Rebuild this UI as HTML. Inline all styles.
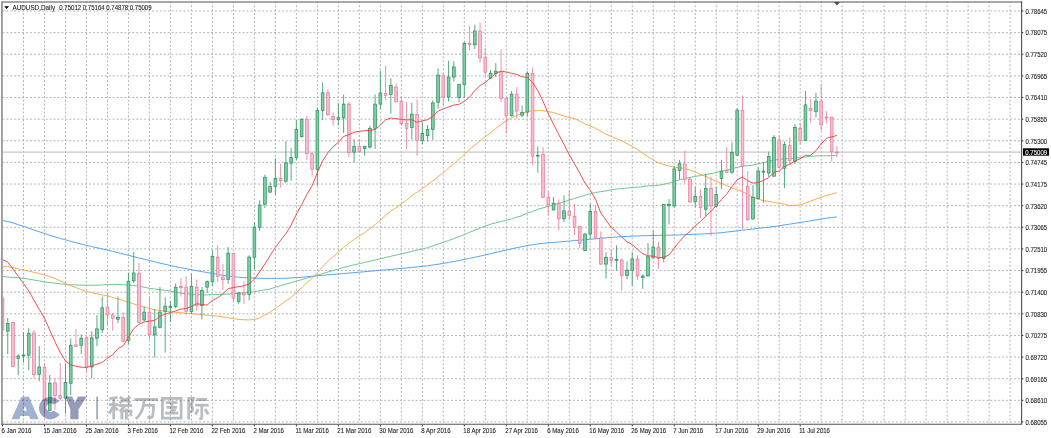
<!DOCTYPE html><html><head><meta charset="utf-8"><style>
html,body{margin:0;padding:0;background:#fff;width:1051px;height:438px;overflow:hidden}
svg{position:absolute;left:0;top:0}
text{font-family:"Liberation Sans",sans-serif}
</style></head><body>
<svg width="1051" height="438" viewBox="0 0 1051 438">
<path d="M2.4 11.00H1020.5M2.4 32.63H1020.5M2.4 54.26H1020.5M2.4 75.89H1020.5M2.4 97.52H1020.5M2.4 119.15H1020.5M2.4 140.78H1020.5M2.4 162.41H1020.5M2.4 184.04H1020.5M2.4 205.67H1020.5M2.4 227.30H1020.5M2.4 248.93H1020.5M2.4 270.56H1020.5M2.4 292.19H1020.5M2.4 313.82H1020.5M2.4 335.45H1020.5M2.4 357.08H1020.5M2.4 378.71H1020.5M2.4 400.34H1020.5M2.4 421.97H1020.5M23.49 1.3V423M44.48 1.3V423M65.48 1.3V423M86.47 1.3V423M107.46 1.3V423M128.45 1.3V423M149.44 1.3V423M170.44 1.3V423M191.43 1.3V423M212.42 1.3V423M233.41 1.3V423M254.40 1.3V423M275.40 1.3V423M296.39 1.3V423M317.38 1.3V423M338.37 1.3V423M359.36 1.3V423M380.36 1.3V423M401.35 1.3V423M422.34 1.3V423M443.33 1.3V423M464.32 1.3V423M485.32 1.3V423M506.31 1.3V423M527.30 1.3V423M548.29 1.3V423M569.28 1.3V423M590.28 1.3V423M611.27 1.3V423M632.26 1.3V423M653.25 1.3V423M674.24 1.3V423M695.24 1.3V423M716.23 1.3V423M737.22 1.3V423M758.21 1.3V423M779.20 1.3V423M800.20 1.3V423M821.19 1.3V423M842.18 1.3V423M863.17 1.3V423M884.16 1.3V423M905.16 1.3V423M926.15 1.3V423M947.14 1.3V423M968.13 1.3V423M989.12 1.3V423M1010.12 1.3V423" stroke="#b4b4b4" stroke-width="1" stroke-dasharray="1.968 1.968" fill="none"/>
<path d="M3 152.1H1021" stroke="#c8c8c8" stroke-width="1.2" fill="none"/>
<clipPath id="cl"><rect x="2.6" y="3" width="1018.4" height="420"/></clipPath>
<g clip-path="url(#cl)">
<polyline points="0.00,220.52 2.50,220.52 7.75,221.54 13.00,222.90 18.24,224.63 23.49,226.39 28.74,228.17 33.99,229.99 39.24,231.79 44.48,233.56 49.73,235.27 54.98,236.90 60.23,238.42 65.48,239.89 70.72,241.33 75.97,242.74 81.22,244.08 86.47,245.37 91.72,246.60 96.96,247.74 102.21,248.86 107.46,250.05 112.71,251.31 117.96,252.62 123.20,253.97 128.45,255.30 133.70,256.62 138.95,257.91 144.20,259.19 149.44,260.48 154.69,261.77 159.94,263.07 165.19,264.32 170.44,265.51 175.68,266.65 180.93,267.73 186.18,268.73 191.43,269.72 196.68,270.68 201.92,271.62 207.17,272.55 212.42,273.46 217.67,274.38 222.92,275.29 228.16,276.09 233.41,276.74 238.66,277.26 243.91,277.65 249.16,277.89 254.40,278.10 259.65,278.28 264.90,278.38 270.15,278.43 275.40,278.41 280.64,278.34 285.89,278.19 291.14,277.95 296.39,277.64 301.64,277.24 306.88,276.76 312.13,276.26 317.38,275.79 322.63,275.32 327.88,274.87 333.12,274.43 338.37,273.98 343.62,273.54 348.87,273.09 354.12,272.63 359.36,272.17 364.61,271.72 369.86,271.26 375.11,270.80 380.36,270.33 385.60,269.86 390.85,269.39 396.10,268.91 401.35,268.42 406.60,267.94 411.84,267.45 417.09,266.95 422.34,266.37 427.59,265.73 432.84,265.01 438.08,264.22 443.33,263.37 448.58,262.46 453.83,261.51 459.08,260.51 464.32,259.46 469.57,258.36 474.82,257.26 480.07,256.12 485.32,254.93 490.56,253.70 495.81,252.43 501.06,251.17 506.31,249.95 511.56,248.79 516.80,247.67 522.05,246.61 527.30,245.60 532.55,244.72 537.80,243.96 543.04,243.33 548.29,242.82 553.54,242.40 558.79,241.97 564.04,241.53 569.28,241.09 574.53,240.64 579.78,240.18 585.03,239.72 590.28,239.26 595.52,238.80 600.77,238.34 606.02,237.88 611.27,237.42 616.52,237.01 621.76,236.67 627.01,236.38 632.26,236.14 637.51,235.96 642.76,235.79 648.00,235.61 653.25,235.45 658.50,235.34 663.75,235.26 669.00,235.17 674.24,235.07 679.49,234.93 684.74,234.74 689.99,234.51 695.24,234.27 700.48,234.03 705.73,233.79 710.98,233.48 716.23,233.10 721.48,232.63 726.72,232.09 731.97,231.47 737.22,230.84 742.47,230.22 747.72,229.61 752.96,228.99 758.21,228.39 763.46,227.78 768.71,227.13 773.96,226.44 779.20,225.71 784.45,224.94 789.70,224.13 794.95,223.31 800.20,222.48 805.44,221.64 810.69,220.78 815.94,219.92 821.19,219.04 826.44,218.17 831.68,217.48 836.93,216.96" stroke="#48a2f6" stroke-width="0.95" fill="none" stroke-linejoin="round"/>
<polyline points="0.00,276.50 2.50,276.50 7.75,277.03 13.00,277.50 18.24,277.82 23.49,278.22 28.74,279.12 33.99,280.01 39.24,280.91 44.48,281.81 49.73,282.51 54.98,283.15 60.23,283.79 65.48,284.43 70.72,284.86 75.97,284.99 81.22,285.13 86.47,285.20 91.72,285.20 96.96,285.20 102.21,284.96 107.46,284.51 112.71,284.35 117.96,284.46 123.20,284.72 128.45,285.08 133.70,285.45 138.95,286.21 144.20,287.26 149.44,288.31 154.69,289.02 159.94,289.71 165.19,290.39 170.44,291.10 175.68,292.07 180.93,293.05 186.18,293.76 191.43,294.13 196.68,294.49 201.92,294.86 207.17,294.87 212.42,294.67 217.67,294.47 222.92,294.27 228.16,294.06 233.41,293.71 238.66,293.29 243.91,292.87 249.16,292.45 254.40,291.63 259.65,290.74 264.90,289.86 270.15,288.95 275.40,287.26 280.64,285.59 285.89,284.10 291.14,282.62 296.39,281.13 301.64,279.64 306.88,278.16 312.13,276.67 317.38,275.15 322.63,273.61 327.88,272.07 333.12,270.53 338.37,268.99 343.62,267.45 348.87,266.05 354.12,264.83 359.36,263.61 364.61,262.39 369.86,261.17 375.11,259.95 380.36,258.73 385.60,257.51 390.85,256.29 396.10,255.06 401.35,253.84 406.60,252.62 411.84,251.39 417.09,250.17 422.34,248.95 427.59,247.60 432.84,245.85 438.08,244.11 443.33,242.36 448.58,240.61 453.83,238.64 459.08,236.57 464.32,234.46 469.57,232.34 474.82,230.22 480.07,228.10 485.32,225.98 490.56,224.19 495.81,222.88 501.06,221.57 506.31,220.27 511.56,218.95 516.80,217.14 522.05,215.72 527.30,213.16 532.55,211.49 537.80,209.37 543.04,207.79 548.29,206.28 553.54,204.98 558.79,203.42 564.04,201.86 569.28,200.01 574.53,198.46 579.78,196.93 585.03,195.29 590.28,193.58 595.52,192.51 600.77,191.69 606.02,190.88 611.27,189.81 616.52,189.03 621.76,188.49 627.01,188.11 632.26,187.55 637.51,187.13 642.76,186.72 648.00,185.87 653.25,185.53 658.50,185.38 663.75,184.20 669.00,183.13 674.24,181.47 679.49,179.83 684.74,178.51 689.99,177.47 695.24,176.37 700.48,175.57 705.73,174.58 710.98,173.52 716.23,172.60 721.48,171.26 726.72,170.08 731.97,168.79 737.22,167.33 742.47,166.23 747.72,165.63 752.96,165.07 758.21,163.80 763.46,162.58 768.71,161.20 773.96,160.00 779.20,159.40 784.45,158.80 789.70,158.62 794.95,158.04 800.20,157.66 805.44,156.90 810.69,156.37 815.94,155.81 821.19,155.76 826.44,155.75 831.68,155.73 836.93,155.56" stroke="#66c48a" stroke-width="0.95" fill="none" stroke-linejoin="round"/>
<polyline points="0.00,266.50 2.50,266.50 7.75,266.77 13.00,267.57 18.24,268.87 23.49,270.14 28.74,271.20 33.99,272.26 39.24,273.54 44.48,274.83 49.73,276.55 54.98,278.39 60.23,280.70 65.48,283.30 70.72,285.64 75.97,287.63 81.22,289.62 86.47,291.61 91.72,292.73 96.96,293.81 102.21,294.90 107.46,295.98 112.71,297.33 117.96,298.94 123.20,300.56 128.45,302.18 133.70,303.93 138.95,305.68 144.20,307.07 149.44,308.39 154.69,309.70 159.94,310.50 165.19,311.16 170.44,311.82 175.68,312.32 180.93,312.75 186.18,313.20 191.43,313.66 196.68,314.12 201.92,314.60 207.17,315.13 212.42,315.66 217.67,316.19 222.92,316.90 228.16,317.74 233.41,318.58 238.66,319.42 243.91,319.74 249.16,319.91 254.40,319.36 259.65,317.90 264.90,314.85 270.15,312.11 275.40,308.35 280.64,304.84 285.89,301.00 291.14,297.48 296.39,292.58 301.64,287.62 306.88,282.70 312.13,278.42 317.38,272.71 322.63,266.61 327.88,261.25 333.12,256.74 338.37,252.17 343.62,247.49 348.87,243.19 354.12,239.37 359.36,235.82 364.61,232.60 369.86,228.86 375.11,224.58 380.36,220.09 385.60,215.17 390.85,211.25 396.10,207.83 401.35,203.86 406.60,200.18 411.84,195.77 417.09,192.04 422.34,188.46 427.59,184.93 432.84,180.86 438.08,176.62 443.33,172.81 448.58,168.11 453.83,163.73 459.08,159.31 464.32,154.37 469.57,149.63 474.82,145.12 480.07,140.76 485.32,136.61 490.56,133.01 495.81,128.47 501.06,124.58 506.31,120.98 511.56,117.72 516.80,115.40 522.05,113.55 527.30,111.46 532.55,110.86 537.80,110.40 543.04,110.73 548.29,111.57 553.54,112.48 558.79,114.27 564.04,116.10 569.28,117.33 574.53,118.49 579.78,121.15 585.03,123.97 590.28,125.91 595.52,128.28 600.77,131.20 606.02,134.27 611.27,136.42 616.52,138.68 621.76,141.16 627.01,143.63 632.26,146.24 637.51,149.68 642.76,153.34 648.00,156.57 653.25,159.81 658.50,162.94 663.75,164.55 669.00,166.07 674.24,167.16 679.49,167.63 684.74,168.55 689.99,170.00 695.24,171.87 700.48,174.52 705.73,176.35 710.98,178.93 716.23,181.48 721.48,183.22 726.72,185.80 731.97,187.95 737.22,189.53 742.47,191.70 747.72,194.65 752.96,197.13 758.21,199.13 763.46,200.59 768.71,201.41 773.96,202.27 779.20,203.40 784.45,204.05 789.70,205.79 794.95,205.22 800.20,204.92 805.44,203.07 810.69,201.18 815.94,199.14 821.19,197.26 826.44,195.40 831.68,194.13 836.93,192.62" stroke="#f8a948" stroke-width="0.95" fill="none" stroke-linejoin="round"/>
<path d="M2.50 295.00V337.00" stroke="#e6809f" stroke-width="0.85"/><rect x="1.12" y="298.00" width="2.75" height="32.00" fill="#fabdcd" stroke="#e27a9a" stroke-width="0.7"/><path d="M7.75 318.00V354.00" stroke="#3a9a6a" stroke-width="0.85"/><rect x="6.37" y="323.40" width="2.75" height="7.80" fill="#78d0a4" stroke="#2b8b5a" stroke-width="0.7"/><path d="M13.00 321.60V366.50" stroke="#e6809f" stroke-width="0.85"/><rect x="11.62" y="322.60" width="2.75" height="43.90" fill="#fabdcd" stroke="#e27a9a" stroke-width="0.7"/><path d="M18.24 354.00V375.40" stroke="#3a9a6a" stroke-width="0.85"/><rect x="16.87" y="356.00" width="2.75" height="2.40" fill="#78d0a4" stroke="#2b8b5a" stroke-width="0.7"/><path d="M23.49 332.30V362.50" stroke="#3a9a6a" stroke-width="0.85"/><rect x="22.12" y="355.00" width="2.75" height="1.00" fill="#78d0a4" stroke="#2b8b5a" stroke-width="0.7"/><path d="M28.74 327.80V370.20" stroke="#3a9a6a" stroke-width="0.85"/><rect x="27.37" y="333.30" width="2.75" height="21.80" fill="#78d0a4" stroke="#2b8b5a" stroke-width="0.7"/><path d="M33.99 330.00V378.40" stroke="#e6809f" stroke-width="0.85"/><rect x="32.61" y="333.00" width="2.75" height="41.70" fill="#fabdcd" stroke="#e27a9a" stroke-width="0.7"/><path d="M39.24 346.20V381.40" stroke="#3a9a6a" stroke-width="0.85"/><rect x="37.86" y="367.00" width="2.75" height="7.40" fill="#78d0a4" stroke="#2b8b5a" stroke-width="0.7"/><path d="M44.48 363.10V413.90" stroke="#e6809f" stroke-width="0.85"/><rect x="43.11" y="367.30" width="2.75" height="32.80" fill="#fabdcd" stroke="#e27a9a" stroke-width="0.7"/><path d="M49.73 375.00V410.40" stroke="#3a9a6a" stroke-width="0.85"/><rect x="48.36" y="383.20" width="2.75" height="27.20" fill="#78d0a4" stroke="#2b8b5a" stroke-width="0.7"/><path d="M54.98 378.20V409.90" stroke="#e6809f" stroke-width="0.85"/><rect x="53.61" y="382.90" width="2.75" height="12.80" fill="#fabdcd" stroke="#e27a9a" stroke-width="0.7"/><path d="M60.23 363.10V400.70" stroke="#e6809f" stroke-width="0.85"/><rect x="58.85" y="395.70" width="2.75" height="2.50" fill="#fabdcd" stroke="#e27a9a" stroke-width="0.7"/><path d="M65.48 363.50V413.90" stroke="#3a9a6a" stroke-width="0.85"/><rect x="64.10" y="382.50" width="2.75" height="15.70" fill="#78d0a4" stroke="#2b8b5a" stroke-width="0.7"/><path d="M70.72 338.70V395.10" stroke="#3a9a6a" stroke-width="0.85"/><rect x="69.35" y="345.20" width="2.75" height="38.00" fill="#78d0a4" stroke="#2b8b5a" stroke-width="0.7"/><path d="M75.97 328.90V346.50" stroke="#e6809f" stroke-width="0.85"/><rect x="74.60" y="344.90" width="2.75" height="1.50" fill="#fabdcd" stroke="#e27a9a" stroke-width="0.7"/><path d="M81.22 334.20V353.90" stroke="#3a9a6a" stroke-width="0.85"/><rect x="79.84" y="338.20" width="2.75" height="7.00" fill="#78d0a4" stroke="#2b8b5a" stroke-width="0.7"/><path d="M86.47 336.30V372.40" stroke="#e6809f" stroke-width="0.85"/><rect x="85.09" y="337.80" width="2.75" height="29.50" fill="#fabdcd" stroke="#e27a9a" stroke-width="0.7"/><path d="M91.72 331.20V377.90" stroke="#3a9a6a" stroke-width="0.85"/><rect x="90.34" y="337.80" width="2.75" height="29.20" fill="#78d0a4" stroke="#2b8b5a" stroke-width="0.7"/><path d="M96.96 315.20V346.10" stroke="#3a9a6a" stroke-width="0.85"/><rect x="95.59" y="328.90" width="2.75" height="9.30" fill="#78d0a4" stroke="#2b8b5a" stroke-width="0.7"/><path d="M102.21 296.70V333.00" stroke="#3a9a6a" stroke-width="0.85"/><rect x="100.84" y="307.80" width="2.75" height="22.00" fill="#78d0a4" stroke="#2b8b5a" stroke-width="0.7"/><path d="M107.46 292.50V324.70" stroke="#e6809f" stroke-width="0.85"/><rect x="106.09" y="307.20" width="2.75" height="7.80" fill="#fabdcd" stroke="#e27a9a" stroke-width="0.7"/><path d="M112.71 312.80V330.60" stroke="#e6809f" stroke-width="0.85"/><rect x="111.33" y="315.00" width="2.75" height="3.40" fill="#fabdcd" stroke="#e27a9a" stroke-width="0.7"/><path d="M117.96 296.50V323.20" stroke="#3a9a6a" stroke-width="0.85"/><rect x="116.58" y="317.30" width="2.75" height="1.90" fill="#78d0a4" stroke="#2b8b5a" stroke-width="0.7"/><path d="M123.20 312.10V342.50" stroke="#e6809f" stroke-width="0.85"/><rect x="121.83" y="317.30" width="2.75" height="24.00" fill="#fabdcd" stroke="#e27a9a" stroke-width="0.7"/><path d="M128.45 272.60V344.00" stroke="#3a9a6a" stroke-width="0.85"/><rect x="127.08" y="281.20" width="2.75" height="59.10" fill="#78d0a4" stroke="#2b8b5a" stroke-width="0.7"/><path d="M133.70 252.00V282.90" stroke="#3a9a6a" stroke-width="0.85"/><rect x="132.33" y="273.00" width="2.75" height="7.80" fill="#78d0a4" stroke="#2b8b5a" stroke-width="0.7"/><path d="M138.95 263.00V322.40" stroke="#e6809f" stroke-width="0.85"/><rect x="137.57" y="273.30" width="2.75" height="49.10" fill="#fabdcd" stroke="#e27a9a" stroke-width="0.7"/><path d="M144.20 306.50V321.70" stroke="#3a9a6a" stroke-width="0.85"/><rect x="142.82" y="312.10" width="2.75" height="7.80" fill="#78d0a4" stroke="#2b8b5a" stroke-width="0.7"/><path d="M149.44 296.50V339.50" stroke="#e6809f" stroke-width="0.85"/><rect x="148.07" y="312.10" width="2.75" height="22.70" fill="#fabdcd" stroke="#e27a9a" stroke-width="0.7"/><path d="M154.69 309.10V357.30" stroke="#3a9a6a" stroke-width="0.85"/><rect x="153.32" y="326.90" width="2.75" height="7.90" fill="#78d0a4" stroke="#2b8b5a" stroke-width="0.7"/><path d="M159.94 287.00V328.40" stroke="#3a9a6a" stroke-width="0.85"/><rect x="158.56" y="312.10" width="2.75" height="15.20" fill="#78d0a4" stroke="#2b8b5a" stroke-width="0.7"/><path d="M165.19 297.30V352.60" stroke="#3a9a6a" stroke-width="0.85"/><rect x="163.81" y="306.10" width="2.75" height="5.50" fill="#78d0a4" stroke="#2b8b5a" stroke-width="0.7"/><path d="M170.44 301.00V321.70" stroke="#3a9a6a" stroke-width="0.85"/><rect x="169.06" y="306.20" width="2.75" height="1.30" fill="#78d0a4" stroke="#2b8b5a" stroke-width="0.7"/><path d="M175.68 283.60V308.40" stroke="#3a9a6a" stroke-width="0.85"/><rect x="174.31" y="287.30" width="2.75" height="19.10" fill="#78d0a4" stroke="#2b8b5a" stroke-width="0.7"/><path d="M180.93 278.10V296.60" stroke="#e6809f" stroke-width="0.85"/><rect x="179.56" y="286.30" width="2.75" height="1.40" fill="#fabdcd" stroke="#e27a9a" stroke-width="0.7"/><path d="M186.18 275.80V315.00" stroke="#e6809f" stroke-width="0.85"/><rect x="184.81" y="287.00" width="2.75" height="24.60" fill="#fabdcd" stroke="#e27a9a" stroke-width="0.7"/><path d="M191.43 273.60V314.00" stroke="#3a9a6a" stroke-width="0.85"/><rect x="190.05" y="286.30" width="2.75" height="25.30" fill="#78d0a4" stroke="#2b8b5a" stroke-width="0.7"/><path d="M196.68 279.50V310.60" stroke="#e6809f" stroke-width="0.85"/><rect x="195.30" y="287.00" width="2.75" height="18.40" fill="#fabdcd" stroke="#e27a9a" stroke-width="0.7"/><path d="M201.92 287.00V319.50" stroke="#3a9a6a" stroke-width="0.85"/><rect x="200.55" y="290.40" width="2.75" height="15.00" fill="#78d0a4" stroke="#2b8b5a" stroke-width="0.7"/><path d="M207.17 280.60V293.00" stroke="#3a9a6a" stroke-width="0.85"/><rect x="205.80" y="281.60" width="2.75" height="5.50" fill="#78d0a4" stroke="#2b8b5a" stroke-width="0.7"/><path d="M212.42 250.50V285.70" stroke="#3a9a6a" stroke-width="0.85"/><rect x="211.05" y="256.50" width="2.75" height="24.90" fill="#78d0a4" stroke="#2b8b5a" stroke-width="0.7"/><path d="M217.67 245.40V282.20" stroke="#e6809f" stroke-width="0.85"/><rect x="216.29" y="257.10" width="2.75" height="19.10" fill="#fabdcd" stroke="#e27a9a" stroke-width="0.7"/><path d="M222.92 263.90V290.00" stroke="#e6809f" stroke-width="0.85"/><rect x="221.54" y="277.10" width="2.75" height="2.60" fill="#fabdcd" stroke="#e27a9a" stroke-width="0.7"/><path d="M228.16 247.10V283.80" stroke="#3a9a6a" stroke-width="0.85"/><rect x="226.79" y="253.10" width="2.75" height="26.40" fill="#78d0a4" stroke="#2b8b5a" stroke-width="0.7"/><path d="M233.41 253.10V301.00" stroke="#e6809f" stroke-width="0.85"/><rect x="232.04" y="253.60" width="2.75" height="44.60" fill="#fabdcd" stroke="#e27a9a" stroke-width="0.7"/><path d="M238.66 292.40V304.20" stroke="#3a9a6a" stroke-width="0.85"/><rect x="237.28" y="292.90" width="2.75" height="8.60" fill="#78d0a4" stroke="#2b8b5a" stroke-width="0.7"/><path d="M243.91 281.40V304.20" stroke="#e6809f" stroke-width="0.85"/><rect x="242.53" y="292.90" width="2.75" height="2.00" fill="#fabdcd" stroke="#e27a9a" stroke-width="0.7"/><path d="M249.16 255.30V300.30" stroke="#3a9a6a" stroke-width="0.85"/><rect x="247.78" y="257.10" width="2.75" height="37.50" fill="#78d0a4" stroke="#2b8b5a" stroke-width="0.7"/><path d="M254.40 222.30V269.40" stroke="#3a9a6a" stroke-width="0.85"/><rect x="253.03" y="227.20" width="2.75" height="30.00" fill="#78d0a4" stroke="#2b8b5a" stroke-width="0.7"/><path d="M259.65 200.30V230.90" stroke="#3a9a6a" stroke-width="0.85"/><rect x="258.28" y="205.00" width="2.75" height="22.40" fill="#78d0a4" stroke="#2b8b5a" stroke-width="0.7"/><path d="M264.90 174.70V208.00" stroke="#3a9a6a" stroke-width="0.85"/><rect x="263.53" y="177.50" width="2.75" height="26.70" fill="#78d0a4" stroke="#2b8b5a" stroke-width="0.7"/><path d="M270.15 182.00V193.00" stroke="#3a9a6a" stroke-width="0.85"/><rect x="268.77" y="186.30" width="2.75" height="5.80" fill="#78d0a4" stroke="#2b8b5a" stroke-width="0.7"/><path d="M275.40 158.30V194.80" stroke="#3a9a6a" stroke-width="0.85"/><rect x="274.02" y="178.40" width="2.75" height="7.90" fill="#78d0a4" stroke="#2b8b5a" stroke-width="0.7"/><path d="M280.64 163.80V187.50" stroke="#e6809f" stroke-width="0.85"/><rect x="279.27" y="178.40" width="2.75" height="2.40" fill="#fabdcd" stroke="#e27a9a" stroke-width="0.7"/><path d="M285.89 141.30V183.00" stroke="#3a9a6a" stroke-width="0.85"/><rect x="284.52" y="162.90" width="2.75" height="18.20" fill="#78d0a4" stroke="#2b8b5a" stroke-width="0.7"/><path d="M291.14 148.00V180.80" stroke="#3a9a6a" stroke-width="0.85"/><rect x="289.76" y="157.40" width="2.75" height="5.80" fill="#78d0a4" stroke="#2b8b5a" stroke-width="0.7"/><path d="M296.39 120.20V160.10" stroke="#3a9a6a" stroke-width="0.85"/><rect x="295.01" y="129.40" width="2.75" height="28.00" fill="#78d0a4" stroke="#2b8b5a" stroke-width="0.7"/><path d="M301.64 118.40V137.50" stroke="#3a9a6a" stroke-width="0.85"/><rect x="300.26" y="119.30" width="2.75" height="17.40" fill="#78d0a4" stroke="#2b8b5a" stroke-width="0.7"/><path d="M306.88 116.00V160.10" stroke="#e6809f" stroke-width="0.85"/><rect x="305.51" y="119.30" width="2.75" height="34.40" fill="#fabdcd" stroke="#e27a9a" stroke-width="0.7"/><path d="M312.13 152.80V176.60" stroke="#e6809f" stroke-width="0.85"/><rect x="310.76" y="153.70" width="2.75" height="15.60" fill="#fabdcd" stroke="#e27a9a" stroke-width="0.7"/><path d="M317.38 107.40V185.70" stroke="#3a9a6a" stroke-width="0.85"/><rect x="316.00" y="110.50" width="2.75" height="58.80" fill="#78d0a4" stroke="#2b8b5a" stroke-width="0.7"/><path d="M322.63 82.40V120.20" stroke="#3a9a6a" stroke-width="0.85"/><rect x="321.25" y="92.80" width="2.75" height="17.70" fill="#78d0a4" stroke="#2b8b5a" stroke-width="0.7"/><path d="M327.88 89.20V115.70" stroke="#e6809f" stroke-width="0.85"/><rect x="326.50" y="92.80" width="2.75" height="21.90" fill="#fabdcd" stroke="#e27a9a" stroke-width="0.7"/><path d="M333.12 112.60V125.60" stroke="#e6809f" stroke-width="0.85"/><rect x="331.75" y="116.30" width="2.75" height="3.40" fill="#fabdcd" stroke="#e27a9a" stroke-width="0.7"/><path d="M338.37 103.20V125.60" stroke="#3a9a6a" stroke-width="0.85"/><rect x="337.00" y="117.80" width="2.75" height="1.80" fill="#78d0a4" stroke="#2b8b5a" stroke-width="0.7"/><path d="M343.62 94.60V133.00" stroke="#3a9a6a" stroke-width="0.85"/><rect x="342.25" y="104.10" width="2.75" height="13.80" fill="#78d0a4" stroke="#2b8b5a" stroke-width="0.7"/><path d="M348.87 101.50V157.00" stroke="#e6809f" stroke-width="0.85"/><rect x="347.49" y="104.10" width="2.75" height="48.50" fill="#fabdcd" stroke="#e27a9a" stroke-width="0.7"/><path d="M354.12 139.20V162.10" stroke="#3a9a6a" stroke-width="0.85"/><rect x="352.74" y="146.60" width="2.75" height="5.50" fill="#78d0a4" stroke="#2b8b5a" stroke-width="0.7"/><path d="M359.36 139.20V153.00" stroke="#e6809f" stroke-width="0.85"/><rect x="357.99" y="146.60" width="2.75" height="4.90" fill="#fabdcd" stroke="#e27a9a" stroke-width="0.7"/><path d="M364.61 145.70V155.70" stroke="#3a9a6a" stroke-width="0.85"/><rect x="363.24" y="146.60" width="2.75" height="1.80" fill="#78d0a4" stroke="#2b8b5a" stroke-width="0.7"/><path d="M369.86 125.60V148.40" stroke="#3a9a6a" stroke-width="0.85"/><rect x="368.49" y="128.30" width="2.75" height="18.80" fill="#78d0a4" stroke="#2b8b5a" stroke-width="0.7"/><path d="M375.11 94.50V149.00" stroke="#3a9a6a" stroke-width="0.85"/><rect x="373.73" y="104.10" width="2.75" height="24.20" fill="#78d0a4" stroke="#2b8b5a" stroke-width="0.7"/><path d="M380.36 70.80V109.30" stroke="#3a9a6a" stroke-width="0.85"/><rect x="378.98" y="93.00" width="2.75" height="11.10" fill="#78d0a4" stroke="#2b8b5a" stroke-width="0.7"/><path d="M385.60 65.60V100.40" stroke="#e6809f" stroke-width="0.85"/><rect x="384.23" y="93.50" width="2.75" height="1.80" fill="#fabdcd" stroke="#e27a9a" stroke-width="0.7"/><path d="M390.85 78.20V113.70" stroke="#3a9a6a" stroke-width="0.85"/><rect x="389.48" y="85.30" width="2.75" height="9.20" fill="#78d0a4" stroke="#2b8b5a" stroke-width="0.7"/><path d="M396.10 83.40V101.90" stroke="#e6809f" stroke-width="0.85"/><rect x="394.73" y="87.10" width="2.75" height="14.80" fill="#fabdcd" stroke="#e27a9a" stroke-width="0.7"/><path d="M401.35 96.30V125.60" stroke="#e6809f" stroke-width="0.85"/><rect x="399.97" y="101.30" width="2.75" height="22.40" fill="#fabdcd" stroke="#e27a9a" stroke-width="0.7"/><path d="M406.60 101.90V149.00" stroke="#e6809f" stroke-width="0.85"/><rect x="405.22" y="123.50" width="2.75" height="4.80" fill="#fabdcd" stroke="#e27a9a" stroke-width="0.7"/><path d="M411.84 102.70V139.80" stroke="#3a9a6a" stroke-width="0.85"/><rect x="410.47" y="114.20" width="2.75" height="13.30" fill="#78d0a4" stroke="#2b8b5a" stroke-width="0.7"/><path d="M417.09 99.30V156.00" stroke="#e6809f" stroke-width="0.85"/><rect x="415.72" y="114.30" width="2.75" height="26.10" fill="#fabdcd" stroke="#e27a9a" stroke-width="0.7"/><path d="M422.34 121.40V144.00" stroke="#3a9a6a" stroke-width="0.85"/><rect x="420.97" y="133.30" width="2.75" height="7.30" fill="#78d0a4" stroke="#2b8b5a" stroke-width="0.7"/><path d="M427.59 124.80V141.70" stroke="#3a9a6a" stroke-width="0.85"/><rect x="426.21" y="129.50" width="2.75" height="6.20" fill="#78d0a4" stroke="#2b8b5a" stroke-width="0.7"/><path d="M432.84 100.40V139.90" stroke="#3a9a6a" stroke-width="0.85"/><rect x="431.46" y="102.90" width="2.75" height="26.40" fill="#78d0a4" stroke="#2b8b5a" stroke-width="0.7"/><path d="M438.08 68.40V108.60" stroke="#3a9a6a" stroke-width="0.85"/><rect x="436.71" y="75.10" width="2.75" height="27.20" fill="#78d0a4" stroke="#2b8b5a" stroke-width="0.7"/><path d="M443.33 72.90V105.60" stroke="#e6809f" stroke-width="0.85"/><rect x="441.96" y="75.80" width="2.75" height="21.20" fill="#fabdcd" stroke="#e27a9a" stroke-width="0.7"/><path d="M448.58 60.70V101.50" stroke="#3a9a6a" stroke-width="0.85"/><rect x="447.21" y="77.00" width="2.75" height="20.00" fill="#78d0a4" stroke="#2b8b5a" stroke-width="0.7"/><path d="M453.83 61.30V81.60" stroke="#3a9a6a" stroke-width="0.85"/><rect x="452.45" y="66.90" width="2.75" height="10.10" fill="#78d0a4" stroke="#2b8b5a" stroke-width="0.7"/><path d="M459.08 84.10V101.90" stroke="#3a9a6a" stroke-width="0.85"/><rect x="457.70" y="84.50" width="2.75" height="12.90" fill="#78d0a4" stroke="#2b8b5a" stroke-width="0.7"/><path d="M464.32 41.70V97.40" stroke="#3a9a6a" stroke-width="0.85"/><rect x="462.95" y="43.50" width="2.75" height="41.00" fill="#78d0a4" stroke="#2b8b5a" stroke-width="0.7"/><path d="M469.57 25.70V50.60" stroke="#e6809f" stroke-width="0.85"/><rect x="468.20" y="43.60" width="2.75" height="1.10" fill="#fabdcd" stroke="#e27a9a" stroke-width="0.7"/><path d="M474.82 24.60V49.10" stroke="#3a9a6a" stroke-width="0.85"/><rect x="473.44" y="31.00" width="2.75" height="13.70" fill="#78d0a4" stroke="#2b8b5a" stroke-width="0.7"/><path d="M480.07 22.70V62.50" stroke="#e6809f" stroke-width="0.85"/><rect x="478.69" y="31.00" width="2.75" height="27.00" fill="#fabdcd" stroke="#e27a9a" stroke-width="0.7"/><path d="M485.32 47.90V75.80" stroke="#e6809f" stroke-width="0.85"/><rect x="483.94" y="57.30" width="2.75" height="14.80" fill="#fabdcd" stroke="#e27a9a" stroke-width="0.7"/><path d="M490.56 69.90V78.90" stroke="#3a9a6a" stroke-width="0.85"/><rect x="489.19" y="73.10" width="2.75" height="5.00" fill="#78d0a4" stroke="#2b8b5a" stroke-width="0.7"/><path d="M495.81 63.20V77.40" stroke="#3a9a6a" stroke-width="0.85"/><rect x="494.44" y="71.20" width="2.75" height="2.40" fill="#78d0a4" stroke="#2b8b5a" stroke-width="0.7"/><path d="M501.06 49.40V102.00" stroke="#e6809f" stroke-width="0.85"/><rect x="499.69" y="71.80" width="2.75" height="26.60" fill="#fabdcd" stroke="#e27a9a" stroke-width="0.7"/><path d="M506.31 98.00V133.60" stroke="#e6809f" stroke-width="0.85"/><rect x="504.93" y="98.60" width="2.75" height="16.70" fill="#fabdcd" stroke="#e27a9a" stroke-width="0.7"/><path d="M511.56 91.10V116.40" stroke="#3a9a6a" stroke-width="0.85"/><rect x="510.18" y="94.10" width="2.75" height="21.70" fill="#78d0a4" stroke="#2b8b5a" stroke-width="0.7"/><path d="M516.80 87.00V118.50" stroke="#e6809f" stroke-width="0.85"/><rect x="515.43" y="94.10" width="2.75" height="16.90" fill="#fabdcd" stroke="#e27a9a" stroke-width="0.7"/><path d="M522.05 105.50V117.10" stroke="#3a9a6a" stroke-width="0.85"/><rect x="520.68" y="112.30" width="2.75" height="2.80" fill="#78d0a4" stroke="#2b8b5a" stroke-width="0.7"/><path d="M527.30 71.20V116.40" stroke="#3a9a6a" stroke-width="0.85"/><rect x="525.93" y="73.30" width="2.75" height="38.80" fill="#78d0a4" stroke="#2b8b5a" stroke-width="0.7"/><path d="M532.55 67.80V165.10" stroke="#e6809f" stroke-width="0.85"/><rect x="531.17" y="73.30" width="2.75" height="82.90" fill="#fabdcd" stroke="#e27a9a" stroke-width="0.7"/><path d="M537.80 146.30V172.60" stroke="#3a9a6a" stroke-width="0.85"/><rect x="536.42" y="155.20" width="2.75" height="0.90" fill="#78d0a4" stroke="#2b8b5a" stroke-width="0.7"/><path d="M543.04 147.30V197.60" stroke="#e6809f" stroke-width="0.85"/><rect x="541.67" y="154.30" width="2.75" height="43.30" fill="#fabdcd" stroke="#e27a9a" stroke-width="0.7"/><path d="M548.29 191.20V215.30" stroke="#e6809f" stroke-width="0.85"/><rect x="546.92" y="197.20" width="2.75" height="7.40" fill="#fabdcd" stroke="#e27a9a" stroke-width="0.7"/><path d="M553.54 197.10V210.50" stroke="#3a9a6a" stroke-width="0.85"/><rect x="552.17" y="203.20" width="2.75" height="6.70" fill="#78d0a4" stroke="#2b8b5a" stroke-width="0.7"/><path d="M558.79 199.30V230.40" stroke="#e6809f" stroke-width="0.85"/><rect x="557.41" y="203.20" width="2.75" height="15.60" fill="#fabdcd" stroke="#e27a9a" stroke-width="0.7"/><path d="M564.04 195.20V222.20" stroke="#3a9a6a" stroke-width="0.85"/><rect x="562.66" y="210.80" width="2.75" height="8.00" fill="#78d0a4" stroke="#2b8b5a" stroke-width="0.7"/><path d="M569.28 190.60V218.80" stroke="#e6809f" stroke-width="0.85"/><rect x="567.91" y="211.20" width="2.75" height="4.10" fill="#fabdcd" stroke="#e27a9a" stroke-width="0.7"/><path d="M574.53 203.70V235.20" stroke="#e6809f" stroke-width="0.85"/><rect x="573.16" y="216.30" width="2.75" height="11.00" fill="#fabdcd" stroke="#e27a9a" stroke-width="0.7"/><path d="M579.78 226.30V248.00" stroke="#e6809f" stroke-width="0.85"/><rect x="578.40" y="226.70" width="2.75" height="16.70" fill="#fabdcd" stroke="#e27a9a" stroke-width="0.7"/><path d="M585.03 233.20V251.40" stroke="#3a9a6a" stroke-width="0.85"/><rect x="583.65" y="234.00" width="2.75" height="16.60" fill="#78d0a4" stroke="#2b8b5a" stroke-width="0.7"/><path d="M590.28 203.70V238.60" stroke="#3a9a6a" stroke-width="0.85"/><rect x="588.90" y="211.60" width="2.75" height="22.40" fill="#78d0a4" stroke="#2b8b5a" stroke-width="0.7"/><path d="M595.52 205.10V238.60" stroke="#e6809f" stroke-width="0.85"/><rect x="594.15" y="211.60" width="2.75" height="26.30" fill="#fabdcd" stroke="#e27a9a" stroke-width="0.7"/><path d="M600.77 231.30V264.90" stroke="#e6809f" stroke-width="0.85"/><rect x="599.40" y="237.90" width="2.75" height="26.20" fill="#fabdcd" stroke="#e27a9a" stroke-width="0.7"/><path d="M606.02 252.20V278.50" stroke="#3a9a6a" stroke-width="0.85"/><rect x="604.64" y="257.30" width="2.75" height="6.80" fill="#78d0a4" stroke="#2b8b5a" stroke-width="0.7"/><path d="M611.27 249.80V265.70" stroke="#e6809f" stroke-width="0.85"/><rect x="609.89" y="257.70" width="2.75" height="2.80" fill="#fabdcd" stroke="#e27a9a" stroke-width="0.7"/><path d="M616.52 245.40V270.50" stroke="#3a9a6a" stroke-width="0.85"/><rect x="615.14" y="259.60" width="2.75" height="1.00" fill="#78d0a4" stroke="#2b8b5a" stroke-width="0.7"/><path d="M621.76 258.30V290.50" stroke="#e6809f" stroke-width="0.85"/><rect x="620.39" y="260.10" width="2.75" height="15.20" fill="#fabdcd" stroke="#e27a9a" stroke-width="0.7"/><path d="M627.01 261.40V279.30" stroke="#3a9a6a" stroke-width="0.85"/><rect x="625.64" y="270.10" width="2.75" height="5.30" fill="#78d0a4" stroke="#2b8b5a" stroke-width="0.7"/><path d="M632.26 252.10V285.70" stroke="#3a9a6a" stroke-width="0.85"/><rect x="630.88" y="259.00" width="2.75" height="11.60" fill="#78d0a4" stroke="#2b8b5a" stroke-width="0.7"/><path d="M637.51 255.30V279.90" stroke="#e6809f" stroke-width="0.85"/><rect x="636.13" y="259.00" width="2.75" height="16.90" fill="#fabdcd" stroke="#e27a9a" stroke-width="0.7"/><path d="M642.76 274.30V288.90" stroke="#3a9a6a" stroke-width="0.85"/><rect x="641.38" y="276.00" width="2.75" height="1.60" fill="#78d0a4" stroke="#2b8b5a" stroke-width="0.7"/><path d="M648.00 243.00V276.60" stroke="#3a9a6a" stroke-width="0.85"/><rect x="646.63" y="256.80" width="2.75" height="19.10" fill="#78d0a4" stroke="#2b8b5a" stroke-width="0.7"/><path d="M653.25 230.40V258.40" stroke="#3a9a6a" stroke-width="0.85"/><rect x="651.88" y="247.20" width="2.75" height="10.60" fill="#78d0a4" stroke="#2b8b5a" stroke-width="0.7"/><path d="M658.50 241.70V268.70" stroke="#e6809f" stroke-width="0.85"/><rect x="657.12" y="247.00" width="2.75" height="11.40" fill="#fabdcd" stroke="#e27a9a" stroke-width="0.7"/><path d="M663.75 204.00V262.40" stroke="#3a9a6a" stroke-width="0.85"/><rect x="662.37" y="204.30" width="2.75" height="54.10" fill="#78d0a4" stroke="#2b8b5a" stroke-width="0.7"/><path d="M669.00 199.10V224.50" stroke="#3a9a6a" stroke-width="0.85"/><rect x="667.62" y="204.30" width="2.75" height="1.40" fill="#78d0a4" stroke="#2b8b5a" stroke-width="0.7"/><path d="M674.24 166.40V207.30" stroke="#3a9a6a" stroke-width="0.85"/><rect x="672.87" y="168.90" width="2.75" height="37.00" fill="#78d0a4" stroke="#2b8b5a" stroke-width="0.7"/><path d="M679.49 159.90V179.50" stroke="#3a9a6a" stroke-width="0.85"/><rect x="678.12" y="163.70" width="2.75" height="6.80" fill="#78d0a4" stroke="#2b8b5a" stroke-width="0.7"/><path d="M684.74 150.70V183.60" stroke="#e6809f" stroke-width="0.85"/><rect x="683.37" y="164.00" width="2.75" height="15.50" fill="#fabdcd" stroke="#e27a9a" stroke-width="0.7"/><path d="M689.99 177.40V203.00" stroke="#e6809f" stroke-width="0.85"/><rect x="688.61" y="179.00" width="2.75" height="22.80" fill="#fabdcd" stroke="#e27a9a" stroke-width="0.7"/><path d="M695.24 186.70V207.30" stroke="#3a9a6a" stroke-width="0.85"/><rect x="693.86" y="196.30" width="2.75" height="5.40" fill="#78d0a4" stroke="#2b8b5a" stroke-width="0.7"/><path d="M700.48 189.50V218.30" stroke="#e6809f" stroke-width="0.85"/><rect x="699.11" y="196.30" width="2.75" height="11.30" fill="#fabdcd" stroke="#e27a9a" stroke-width="0.7"/><path d="M705.73 173.60V216.30" stroke="#3a9a6a" stroke-width="0.85"/><rect x="704.36" y="188.60" width="2.75" height="20.60" fill="#78d0a4" stroke="#2b8b5a" stroke-width="0.7"/><path d="M710.98 176.70V236.20" stroke="#e6809f" stroke-width="0.85"/><rect x="709.61" y="188.40" width="2.75" height="17.60" fill="#fabdcd" stroke="#e27a9a" stroke-width="0.7"/><path d="M716.23 186.80V206.60" stroke="#3a9a6a" stroke-width="0.85"/><rect x="714.85" y="194.50" width="2.75" height="11.70" fill="#78d0a4" stroke="#2b8b5a" stroke-width="0.7"/><path d="M721.48 159.90V188.80" stroke="#3a9a6a" stroke-width="0.85"/><rect x="720.10" y="171.20" width="2.75" height="7.40" fill="#78d0a4" stroke="#2b8b5a" stroke-width="0.7"/><path d="M726.72 147.00V172.60" stroke="#e6809f" stroke-width="0.85"/><rect x="725.35" y="170.40" width="2.75" height="2.20" fill="#fabdcd" stroke="#e27a9a" stroke-width="0.7"/><path d="M731.97 142.10V174.00" stroke="#3a9a6a" stroke-width="0.85"/><rect x="730.60" y="152.30" width="2.75" height="19.90" fill="#78d0a4" stroke="#2b8b5a" stroke-width="0.7"/><path d="M737.22 108.40V155.50" stroke="#3a9a6a" stroke-width="0.85"/><rect x="735.85" y="110.10" width="2.75" height="45.20" fill="#78d0a4" stroke="#2b8b5a" stroke-width="0.7"/><path d="M742.47 95.40V229.30" stroke="#e6809f" stroke-width="0.85"/><rect x="741.09" y="110.30" width="2.75" height="56.00" fill="#fabdcd" stroke="#e27a9a" stroke-width="0.7"/><path d="M747.72 171.20V220.80" stroke="#e6809f" stroke-width="0.85"/><rect x="746.34" y="186.20" width="2.75" height="33.50" fill="#fabdcd" stroke="#e27a9a" stroke-width="0.7"/><path d="M752.96 185.20V219.70" stroke="#3a9a6a" stroke-width="0.85"/><rect x="751.59" y="197.30" width="2.75" height="21.70" fill="#78d0a4" stroke="#2b8b5a" stroke-width="0.7"/><path d="M758.21 167.40V199.00" stroke="#3a9a6a" stroke-width="0.85"/><rect x="756.84" y="171.00" width="2.75" height="27.70" fill="#78d0a4" stroke="#2b8b5a" stroke-width="0.7"/><path d="M763.46 162.50V202.70" stroke="#3a9a6a" stroke-width="0.85"/><rect x="762.09" y="171.20" width="2.75" height="0.90" fill="#78d0a4" stroke="#2b8b5a" stroke-width="0.7"/><path d="M768.71 151.60V176.80" stroke="#3a9a6a" stroke-width="0.85"/><rect x="767.33" y="156.40" width="2.75" height="16.60" fill="#78d0a4" stroke="#2b8b5a" stroke-width="0.7"/><path d="M773.96 135.00V176.30" stroke="#3a9a6a" stroke-width="0.85"/><rect x="772.58" y="137.30" width="2.75" height="38.90" fill="#78d0a4" stroke="#2b8b5a" stroke-width="0.7"/><path d="M779.20 135.50V168.20" stroke="#e6809f" stroke-width="0.85"/><rect x="777.83" y="140.00" width="2.75" height="27.30" fill="#fabdcd" stroke="#e27a9a" stroke-width="0.7"/><path d="M784.45 141.50V188.00" stroke="#3a9a6a" stroke-width="0.85"/><rect x="783.08" y="144.70" width="2.75" height="23.50" fill="#78d0a4" stroke="#2b8b5a" stroke-width="0.7"/><path d="M789.70 137.30V165.00" stroke="#e6809f" stroke-width="0.85"/><rect x="788.33" y="145.30" width="2.75" height="15.10" fill="#fabdcd" stroke="#e27a9a" stroke-width="0.7"/><path d="M794.95 124.40V163.80" stroke="#3a9a6a" stroke-width="0.85"/><rect x="793.57" y="127.60" width="2.75" height="33.70" fill="#78d0a4" stroke="#2b8b5a" stroke-width="0.7"/><path d="M800.20 123.20V144.40" stroke="#e6809f" stroke-width="0.85"/><rect x="798.82" y="128.40" width="2.75" height="12.00" fill="#fabdcd" stroke="#e27a9a" stroke-width="0.7"/><path d="M805.44 90.90V140.50" stroke="#3a9a6a" stroke-width="0.85"/><rect x="804.07" y="104.90" width="2.75" height="35.50" fill="#78d0a4" stroke="#2b8b5a" stroke-width="0.7"/><path d="M810.69 98.80V122.40" stroke="#e6809f" stroke-width="0.85"/><rect x="809.32" y="108.60" width="2.75" height="1.80" fill="#fabdcd" stroke="#e27a9a" stroke-width="0.7"/><path d="M815.94 92.90V117.50" stroke="#3a9a6a" stroke-width="0.85"/><rect x="814.57" y="101.10" width="2.75" height="10.30" fill="#78d0a4" stroke="#2b8b5a" stroke-width="0.7"/><path d="M821.19 84.50V130.70" stroke="#e6809f" stroke-width="0.85"/><rect x="819.81" y="101.10" width="2.75" height="23.60" fill="#fabdcd" stroke="#e27a9a" stroke-width="0.7"/><path d="M826.44 111.20V123.20" stroke="#e6809f" stroke-width="0.85"/><rect x="825.06" y="117.00" width="2.75" height="1.10" fill="#fabdcd" stroke="#e27a9a" stroke-width="0.7"/><path d="M831.68 117.00V161.50" stroke="#e6809f" stroke-width="0.85"/><rect x="830.31" y="117.10" width="2.75" height="34.40" fill="#fabdcd" stroke="#e27a9a" stroke-width="0.7"/><path d="M836.93 146.10V157.20" stroke="#e6809f" stroke-width="0.85"/><rect x="835.56" y="152.00" width="2.75" height="0.90" fill="#fabdcd" stroke="#e27a9a" stroke-width="0.7"/>
<polyline points="0.00,259.60 2.50,259.60 7.75,261.95 13.00,269.15 18.24,276.35 23.49,283.54 28.74,290.95 33.99,300.20 39.24,309.45 44.48,318.17 49.73,329.98 54.98,341.80 60.23,352.36 65.48,360.96 70.72,365.06 75.97,366.23 81.22,367.29 86.47,367.34 91.72,366.04 96.96,364.18 102.21,362.36 107.46,358.09 112.71,354.62 117.96,348.71 123.20,345.71 128.45,337.54 133.70,328.59 138.95,324.30 144.20,321.94 149.44,321.11 154.69,320.30 159.94,316.36 165.19,314.09 170.44,312.47 175.68,311.01 180.93,309.06 186.18,308.57 191.43,306.36 196.68,303.79 201.92,304.45 207.17,305.06 212.42,300.36 217.67,297.79 222.92,293.86 228.16,288.59 233.41,287.59 238.66,286.65 243.91,285.84 249.16,283.69 254.40,279.36 259.65,271.75 264.90,263.98 270.15,255.47 275.40,247.47 280.64,240.27 285.89,233.59 291.14,225.10 296.39,214.36 301.64,204.81 306.88,194.49 312.13,185.66 317.38,172.49 322.63,160.75 327.88,152.71 333.12,146.62 338.37,142.36 343.62,136.49 348.87,134.64 354.12,132.20 359.36,131.39 364.61,130.61 369.86,130.54 375.11,129.45 380.36,125.11 385.60,119.83 390.85,118.03 396.10,118.68 401.35,119.32 406.60,119.94 411.84,119.68 417.09,122.27 422.34,120.89 427.59,119.67 432.84,116.20 438.08,111.09 443.33,108.86 448.58,106.92 453.83,105.06 459.08,104.29 464.32,101.30 469.57,97.21 474.82,90.59 480.07,85.57 485.32,82.56 490.56,77.76 495.81,73.32 501.06,71.10 506.31,71.99 511.56,73.34 516.80,74.34 522.05,76.86 527.30,77.32 532.55,82.44 537.80,90.42 543.04,101.34 548.29,113.74 553.54,124.11 558.79,134.59 564.04,144.43 569.28,154.72 574.53,163.93 579.78,173.08 585.03,183.07 590.28,190.26 595.52,199.23 600.77,212.86 606.02,220.08 611.27,227.60 616.52,232.03 621.76,237.08 627.01,241.86 632.26,244.73 637.51,249.38 642.76,253.71 648.00,255.82 653.25,256.09 658.50,257.84 663.75,257.31 669.00,254.91 674.24,248.11 679.49,241.43 684.74,235.64 689.99,231.51 695.24,225.87 700.48,221.41 705.73,216.38 710.98,211.39 716.23,205.56 721.48,199.45 726.72,194.12 731.97,186.54 737.22,179.81 742.47,177.10 747.72,180.73 752.96,183.13 758.21,182.52 763.46,180.34 768.71,177.49 773.96,172.46 779.20,170.94 784.45,166.56 789.70,164.13 794.95,161.01 800.20,158.71 805.44,155.33 810.69,155.35 815.94,150.69 821.19,143.91 826.44,138.25 831.68,136.86 836.93,135.49" stroke="#f04545" stroke-width="0.95" fill="none" stroke-linejoin="round"/>
</g>
<g style="mix-blend-mode:multiply"><g>
<path d="M11.5 419.3L21.5 396.8H28.9L38.8 419.3H30.3L29.2 416.1H20.4L19.3 419.3Z M23.2 410.8H26.8L25 406Z" fill="#a0b1d2" fill-rule="evenodd"/>
<path d="M59.2 401.5A11.2 11.2 0 1 0 59.6 414.3L53.4 410.6A4.1 4.1 0 1 1 53.3 404.6Z" fill="#98a6c8"/>
<path d="M65.5 396.6H72.3L74.6 402.8L78.2 396.4H86.8L78.5 409.6V419.3H70.3V409.6Z" fill="#969bb9"/>
<rect x="96.2" y="396.6" width="1.8" height="22.7" fill="#a3abc4"/>
<g stroke="#b8bdc2" stroke-width="2.8" fill="none" stroke-linecap="butt">
 <!-- 稀 left radical -->
 <path d="M109.5 398.6L117.6 397.3"/>
 <path d="M108.8 404.6H118.5"/>
 <path d="M113.7 399V419.4"/>
 <path d="M113.3 406.5L109.2 413.6"/>
 <path d="M115 406.8L117.6 410.4"/>
 <!-- 稀 right -->
 <path d="M119.6 397.2L130.5 402.8M130.5 397.2L119.6 402.8"/>
 <path d="M118.5 405.5H132.1"/>
 <path d="M124.5 405.8L119.8 411.8"/>
 <path d="M121.9 410.8V419.4M121.9 410.9H130.9V416.3M126.4 408.5V419.4"/>
 <!-- 万 -->
 <path d="M134.3 399.5H158"/>
 <path d="M144 400.5C143.5 410 139.5 416 135.8 419"/>
 <path d="M143.5 405.4H153.6C153.4 411 153.2 414.6 152.3 416.8C151.4 418 149.5 417.8 147.3 417"/>
 <!-- 国 -->
 <path d="M162.4 419.4V398.3H181.1V419.4M162.4 418.1H181.1"/>
 <path d="M166 402.6H177.4M166.4 407.4H177M165.2 413.2H178.2M172 402.6V413.2"/>
 <path d="M173.6 409.2L175.5 411"/>
 <!-- 际 -->
 <path d="M188.7 419.4V398.3H193.4L191.2 405.6C193.5 408 193.5 410.5 190.2 412.2"/>
 <path d="M196.4 399.5H207M195.2 405.2H208.7"/>
 <path d="M201.8 406V417.8C201.8 418.5 200.9 418.9 199.3 418.3"/>
 <path d="M198 409.2L195.6 414.5M205 409L208.2 414.2"/>
</g>
</g>
</g>
<path d="M1.95 424.5V2.05H1022" stroke="#8c8c8c" stroke-width="1.6" fill="none"/>
<path d="M1.2 424.25H1021.6V1.3" stroke="#555" stroke-width="1.15" fill="none"/>
<text transform="translate(1025.40 13.85) scale(0.78 1)" font-size="7.75" fill="#1a1a1a" stroke="#1a1a1a" stroke-width="0.1" >0.78645</text>
<text transform="translate(1025.40 35.48) scale(0.78 1)" font-size="7.75" fill="#1a1a1a" stroke="#1a1a1a" stroke-width="0.1" >0.78075</text>
<text transform="translate(1025.40 57.11) scale(0.78 1)" font-size="7.75" fill="#1a1a1a" stroke="#1a1a1a" stroke-width="0.1" >0.77520</text>
<text transform="translate(1025.40 78.74) scale(0.78 1)" font-size="7.75" fill="#1a1a1a" stroke="#1a1a1a" stroke-width="0.1" >0.76965</text>
<text transform="translate(1025.40 100.37) scale(0.78 1)" font-size="7.75" fill="#1a1a1a" stroke="#1a1a1a" stroke-width="0.1" >0.76410</text>
<text transform="translate(1025.40 122.00) scale(0.78 1)" font-size="7.75" fill="#1a1a1a" stroke="#1a1a1a" stroke-width="0.1" >0.75855</text>
<text transform="translate(1025.40 143.63) scale(0.78 1)" font-size="7.75" fill="#1a1a1a" stroke="#1a1a1a" stroke-width="0.1" >0.75300</text>
<text transform="translate(1025.40 165.26) scale(0.78 1)" font-size="7.75" fill="#1a1a1a" stroke="#1a1a1a" stroke-width="0.1" >0.74745</text>
<text transform="translate(1025.40 186.89) scale(0.78 1)" font-size="7.75" fill="#1a1a1a" stroke="#1a1a1a" stroke-width="0.1" >0.74175</text>
<text transform="translate(1025.40 208.52) scale(0.78 1)" font-size="7.75" fill="#1a1a1a" stroke="#1a1a1a" stroke-width="0.1" >0.73620</text>
<text transform="translate(1025.40 230.15) scale(0.78 1)" font-size="7.75" fill="#1a1a1a" stroke="#1a1a1a" stroke-width="0.1" >0.73065</text>
<text transform="translate(1025.40 251.78) scale(0.78 1)" font-size="7.75" fill="#1a1a1a" stroke="#1a1a1a" stroke-width="0.1" >0.72510</text>
<text transform="translate(1025.40 273.41) scale(0.78 1)" font-size="7.75" fill="#1a1a1a" stroke="#1a1a1a" stroke-width="0.1" >0.71955</text>
<text transform="translate(1025.40 295.04) scale(0.78 1)" font-size="7.75" fill="#1a1a1a" stroke="#1a1a1a" stroke-width="0.1" >0.71400</text>
<text transform="translate(1025.40 316.67) scale(0.78 1)" font-size="7.75" fill="#1a1a1a" stroke="#1a1a1a" stroke-width="0.1" >0.70830</text>
<text transform="translate(1025.40 338.30) scale(0.78 1)" font-size="7.75" fill="#1a1a1a" stroke="#1a1a1a" stroke-width="0.1" >0.70275</text>
<text transform="translate(1025.40 359.93) scale(0.78 1)" font-size="7.75" fill="#1a1a1a" stroke="#1a1a1a" stroke-width="0.1" >0.69720</text>
<text transform="translate(1025.40 381.56) scale(0.78 1)" font-size="7.75" fill="#1a1a1a" stroke="#1a1a1a" stroke-width="0.1" >0.69165</text>
<text transform="translate(1025.40 403.19) scale(0.78 1)" font-size="7.75" fill="#1a1a1a" stroke="#1a1a1a" stroke-width="0.1" >0.68610</text>
<text transform="translate(1025.40 424.82) scale(0.78 1)" font-size="7.75" fill="#1a1a1a" stroke="#1a1a1a" stroke-width="0.1" >0.68055</text>
<path d="M1022 11.00h1.3M1022 32.63h1.3M1022 54.26h1.3M1022 75.89h1.3M1022 97.52h1.3M1022 119.15h1.3M1022 140.78h1.3M1022 162.41h1.3M1022 184.04h1.3M1022 205.67h1.3M1022 227.30h1.3M1022 248.93h1.3M1022 270.56h1.3M1022 292.19h1.3M1022 313.82h1.3M1022 335.45h1.3M1022 357.08h1.3M1022 378.71h1.3M1022 400.34h1.3M1022 421.97h1.3" stroke="#333" stroke-width="1"/>
<text transform="translate(1.50 432.50) scale(0.78 1)" font-size="7.75" fill="#1a1a1a" stroke="#1a1a1a" stroke-width="0.1" >6 Jan 2016</text>
<text transform="translate(43.48 432.50) scale(0.78 1)" font-size="7.75" fill="#1a1a1a" stroke="#1a1a1a" stroke-width="0.1" >15 Jan 2016</text>
<text transform="translate(85.47 432.50) scale(0.78 1)" font-size="7.75" fill="#1a1a1a" stroke="#1a1a1a" stroke-width="0.1" >25 Jan 2016</text>
<text transform="translate(127.45 432.50) scale(0.78 1)" font-size="7.75" fill="#1a1a1a" stroke="#1a1a1a" stroke-width="0.1" >3 Feb 2016</text>
<text transform="translate(169.44 432.50) scale(0.78 1)" font-size="7.75" fill="#1a1a1a" stroke="#1a1a1a" stroke-width="0.1" >12 Feb 2016</text>
<text transform="translate(211.42 432.50) scale(0.78 1)" font-size="7.75" fill="#1a1a1a" stroke="#1a1a1a" stroke-width="0.1" >22 Feb 2016</text>
<text transform="translate(253.40 432.50) scale(0.78 1)" font-size="7.75" fill="#1a1a1a" stroke="#1a1a1a" stroke-width="0.1" >2 Mar 2016</text>
<text transform="translate(295.39 432.50) scale(0.78 1)" font-size="7.75" fill="#1a1a1a" stroke="#1a1a1a" stroke-width="0.1" >11 Mar 2016</text>
<text transform="translate(337.37 432.50) scale(0.78 1)" font-size="7.75" fill="#1a1a1a" stroke="#1a1a1a" stroke-width="0.1" >21 Mar 2016</text>
<text transform="translate(379.36 432.50) scale(0.78 1)" font-size="7.75" fill="#1a1a1a" stroke="#1a1a1a" stroke-width="0.1" >30 Mar 2016</text>
<text transform="translate(421.34 432.50) scale(0.78 1)" font-size="7.75" fill="#1a1a1a" stroke="#1a1a1a" stroke-width="0.1" >8 Apr 2016</text>
<text transform="translate(463.32 432.50) scale(0.78 1)" font-size="7.75" fill="#1a1a1a" stroke="#1a1a1a" stroke-width="0.1" >18 Apr 2016</text>
<text transform="translate(505.31 432.50) scale(0.78 1)" font-size="7.75" fill="#1a1a1a" stroke="#1a1a1a" stroke-width="0.1" >27 Apr 2016</text>
<text transform="translate(547.29 432.50) scale(0.78 1)" font-size="7.75" fill="#1a1a1a" stroke="#1a1a1a" stroke-width="0.1" >6 May 2016</text>
<text transform="translate(589.28 432.50) scale(0.78 1)" font-size="7.75" fill="#1a1a1a" stroke="#1a1a1a" stroke-width="0.1" >16 May 2016</text>
<text transform="translate(631.26 432.50) scale(0.78 1)" font-size="7.75" fill="#1a1a1a" stroke="#1a1a1a" stroke-width="0.1" >26 May 2016</text>
<text transform="translate(673.24 432.50) scale(0.78 1)" font-size="7.75" fill="#1a1a1a" stroke="#1a1a1a" stroke-width="0.1" >7 Jun 2016</text>
<text transform="translate(715.23 432.50) scale(0.78 1)" font-size="7.75" fill="#1a1a1a" stroke="#1a1a1a" stroke-width="0.1" >17 Jun 2016</text>
<text transform="translate(757.21 432.50) scale(0.78 1)" font-size="7.75" fill="#1a1a1a" stroke="#1a1a1a" stroke-width="0.1" >29 Jun 2016</text>
<text transform="translate(799.20 432.50) scale(0.78 1)" font-size="7.75" fill="#1a1a1a" stroke="#1a1a1a" stroke-width="0.1" >11 Jul 2016</text>
<path d="M2.50 424.6v1.8M44.48 424.6v1.8M86.47 424.6v1.8M128.45 424.6v1.8M170.44 424.6v1.8M212.42 424.6v1.8M254.40 424.6v1.8M296.39 424.6v1.8M338.37 424.6v1.8M380.36 424.6v1.8M422.34 424.6v1.8M464.32 424.6v1.8M506.31 424.6v1.8M548.29 424.6v1.8M590.28 424.6v1.8M632.26 424.6v1.8M674.24 424.6v1.8M716.23 424.6v1.8M758.21 424.6v1.8M800.20 424.6v1.8" stroke="#333" stroke-width="1"/>
<rect x="1023" y="148.3" width="26" height="7.4" fill="#000"/>
<text transform="translate(1025.30 154.95) scale(0.78 1)" font-size="7.75" fill="#fff" stroke="#fff" stroke-width="0.1" >0.75009</text>
<path d="M4.2 6.2h4.8l-2.4 2.9z" fill="#000"/>
<text transform="translate(12.40 10.10) scale(0.82 1)" font-size="7.75" fill="#1a1a1a" stroke="#1a1a1a" stroke-width="0.1" >AUDUSD,Daily</text>
<text transform="translate(59.30 10.10) scale(0.78 1)" font-size="7.75" fill="#1a1a1a" stroke="#1a1a1a" stroke-width="0.1" >0.75012 0.75164 0.74878 0.75009</text>
<path d="M833.9 2.1h6.1l-3.05 3.5z" fill="#4a4a4a"/>
</svg></body></html>
